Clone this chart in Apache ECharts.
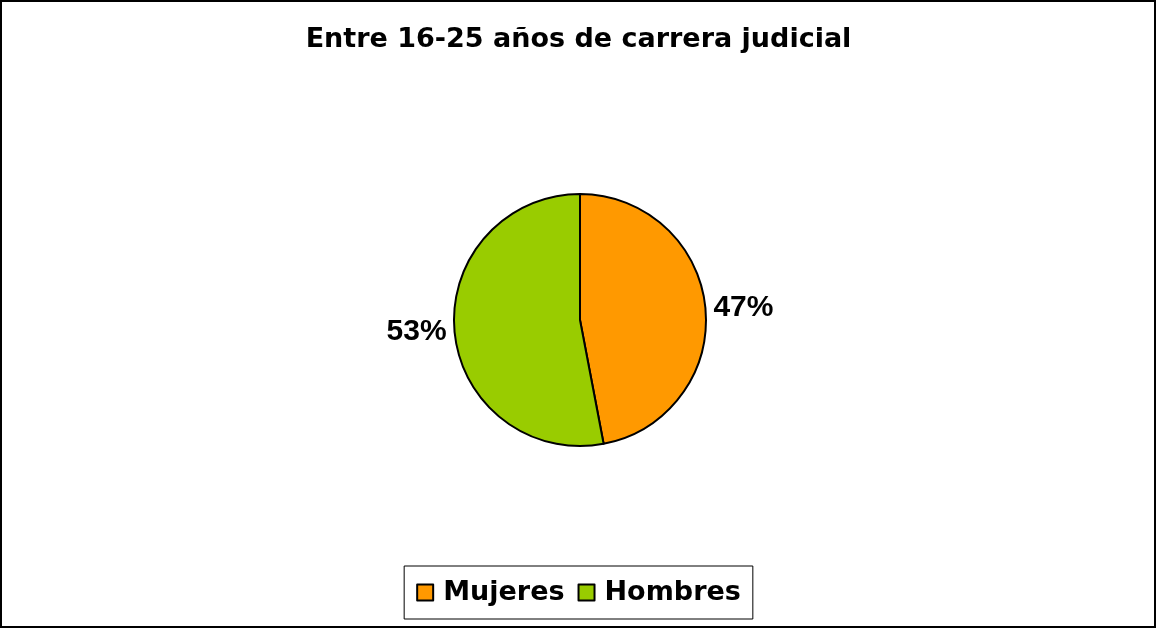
<html>
<head>
<meta charset="utf-8">
<title>ECharts</title>
</head>
<body style="margin:0">
<div id="main" style="width: 1157px;height:631px;"></div>
<script src="https://cdn.jsdelivr.net/npm/echarts@6/dist/echarts.min.js"></script>
<script>
var categories = ['Mujeres', 'Hombres'];
var values = [47, 53];
var colors = ['#FF9900', '#99CC00'];

var chart = echarts.init(document.getElementById('main'));

var data = categories.map(function (name, i) {
	return {name: name, value: values[i], itemStyle: {color: colors[i]}};
});

option = {
	backgroundColor: '#fff',
	title: {
		text: 'Entre 16-25 años de carrera judicial',
		left: 'center',
		top: 21,
		textStyle: {fontFamily: 'DejaVu Sans', fontWeight: 'bold', fontSize: 27, color: '#000'}
	},
	legend: {
		bottom: 12,
		left: 'center',
		icon: 'rect',
		itemWidth: 16,
		itemHeight: 16,
		itemGap: 13,
		padding: [13, 12, 13, 12],
		borderColor: '#000',
		borderWidth: 1,
		itemStyle: {borderColor: '#000', borderWidth: 2},
		textStyle: {fontFamily: 'DejaVu Sans', fontWeight: 'bold', fontSize: 27, color: '#000', padding: [0, 0, 0, 5]},
		data: categories
	},
	graphic: [{
		type: 'rect',
		shape: {x: 1, y: 1, width: 1154, height: 626},
		style: {fill: 'none', stroke: '#000', lineWidth: 2},
		silent: true
	}],
	series: [{
		type: 'pie',
		center: [580, 320],
		radius: 126,
		startAngle: 90,
		clockwise: true,
		animation: false,
		itemStyle: {borderColor: '#000', borderWidth: 2},
		label: {
			position: 'outside',
			formatter: '{d}%',
			fontFamily: 'Arial, Liberation Sans',
			fontWeight: 'bold',
			fontSize: 30,
			color: '#000'
		},
		labelLine: {show: false, length: 3, length2: 0},
		data: data
	}]
};

chart.setOption(option);
</script>
</body>
</html>
